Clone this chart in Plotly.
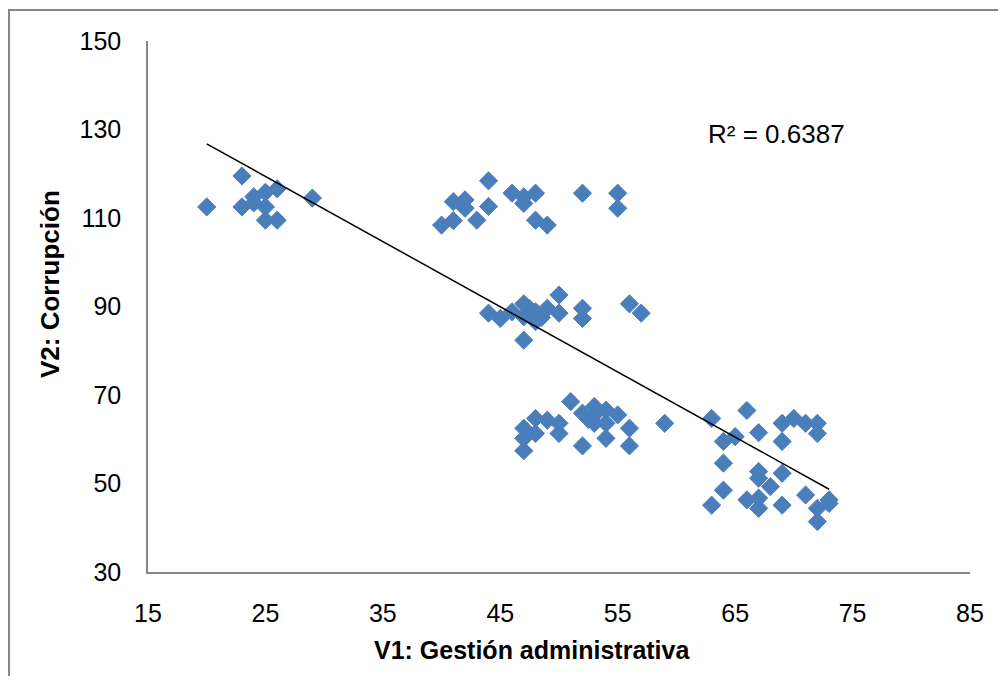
import numpy as np
import plotly.graph_objects as go

# V1: Gestión administrativa (x) and V2: Corrupción (y)
gestion = [
    20, 23, 23, 24, 24, 25, 26, 25, 25, 26, 29,
    44, 41, 42, 42, 44, 40, 41, 43, 46, 47, 48, 47, 48, 49, 52, 55, 55,
    44, 45, 46, 47, 47, 48, 48, 49, 50, 50, 52, 52, 47, 56, 57, 47.5, 48.5,
    51, 47, 47, 47, 48, 48, 49, 50, 50, 52, 52.5, 53, 53, 54, 54, 55, 54, 52, 56, 56, 59, 53,
    63, 66, 64, 65, 67, 69, 70, 71, 72, 72, 69, 64, 67, 67, 68, 69, 64, 63, 66, 67, 67, 69, 71, 72, 73, 73, 72,
]
corrupcion = [
    112.5, 119.5, 112.5, 114.8, 113.4, 115.8, 116.6, 112.5, 109.5, 109.5, 114.5,
    118.4, 113.7, 114.1, 112.2, 112.6, 108.4, 109.4, 109.5, 115.6, 114.8, 115.6, 113.3, 109.5, 108.4, 115.6, 115.6, 112.2,
    88.5, 87.3, 88.8, 90.6, 87.7, 88.8, 86.6, 89.6, 92.6, 88.5, 89.6, 87.3, 82.4, 90.6, 88.5, 89.5, 87.5,
    68.5, 62.5, 60.2, 57.4, 64.7, 61.3, 64.3, 63.6, 61.3, 65.9, 64.5, 67.4, 63.6, 66.6, 63.6, 65.5, 60.2, 58.5, 62.5, 58.5, 63.6, 65.5,
    64.7, 66.5, 59.5, 60.6, 61.5, 63.6, 64.7, 63.6, 63.6, 61.3, 59.5, 54.6, 52.7, 51.2, 49.3, 52.3, 48.5, 45.1, 46.3, 46.7, 44.4, 45.1, 47.4, 44.4, 45.5, 46.3, 41.4,
]
r2_label = "R² = 0.6387"
x_title = "V1: Gestión administrativa"
y_title = "V2: Corrupción"

x_arr = np.array(gestion, dtype=float)
y_arr = np.array(corrupcion, dtype=float)
slope, intercept = np.polyfit(x_arr, y_arr, 1)
trend_x = np.array([x_arr.min(), x_arr.max()])
trend_y = slope * trend_x + intercept

FONT = "Liberation Sans, Arial, sans-serif"
AXIS_GRAY = "#868686"

OFF = 8  # page body margin
W, H = 990, 668
L, T = 148 - OFF, 41 - OFF
PW, PH = 822, 531
R = W - L - PW
B = H - T - PH


def px(xp):
    return (xp - OFF - L) / PW


def py(yp):
    return (T + PH - (yp - OFF)) / PH


fig = go.Figure()
fig.add_trace(go.Scatter(
    x=gestion, y=corrupcion, mode="markers",
    marker=dict(symbol="diamond", size=14, color="#4A7EBB",
                line=dict(color="#4F81BD", width=1)),
    showlegend=False, hoverinfo="x+y",
))
fig.add_trace(go.Scatter(
    x=trend_x, y=trend_y, mode="lines",
    line=dict(color="black", width=1.5), showlegend=False, hoverinfo="skip",
))

fig.update_layout(
    width=W, height=H,
    margin=dict(l=L, r=R, t=T, b=B),
    paper_bgcolor="white", plot_bgcolor="white",
    font=dict(family=FONT, size=26, color="black"),
    xaxis=dict(range=[15, 85], tickvals=[15, 25, 35, 45, 55, 65, 75, 85],
               showgrid=False, zeroline=False, showline=True,
               linecolor=AXIS_GRAY, linewidth=1.5, ticks="",
               ticklabelstandoff=18, tickfont=dict(size=25)),
    yaxis=dict(range=[30, 150], tickvals=[30, 50, 70, 90, 110, 130, 150],
               showgrid=False, zeroline=False, showline=True,
               linecolor=AXIS_GRAY, linewidth=1.5, ticks="",
               ticklabelstandoff=20, tickfont=dict(size=25)),
    shapes=[dict(type="rect", xref="paper", yref="paper",
                 x0=px(9), x1=px(1040),
                 y0=py(720), y1=py(10),
                 line=dict(color=AXIS_GRAY, width=2), layer="below")],
    annotations=[
        dict(text=r2_label, xref="paper", yref="paper",
             x=px(776), y=py(134), showarrow=False,
             font=dict(size=26), xanchor="center", yanchor="middle"),
        dict(text="<b>" + x_title + "</b>", xref="paper", yref="paper",
             x=px(532), y=py(650), showarrow=False,
             font=dict(size=25), xanchor="center", yanchor="middle"),
        dict(text="<b>" + y_title + "</b>", xref="paper", yref="paper",
             x=px(50), y=py(284), showarrow=False,
             textangle=-90, font=dict(size=26), xanchor="center", yanchor="middle"),
    ],
)

fig.write_html("out.html")
